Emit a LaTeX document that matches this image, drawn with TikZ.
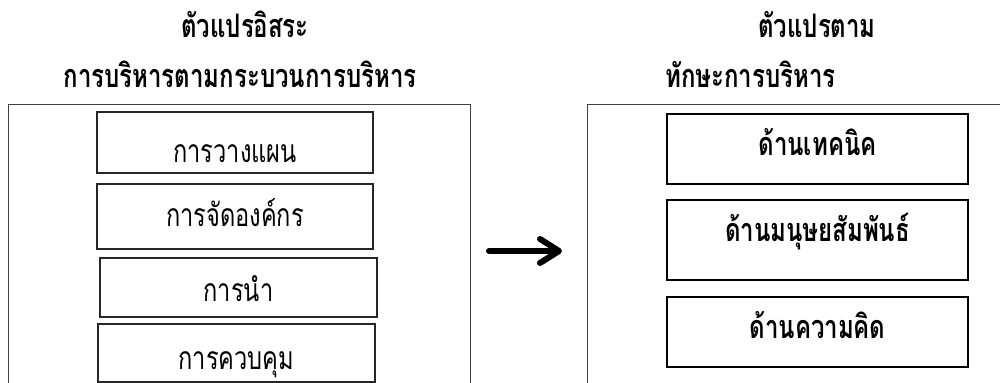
\documentclass[tikz,border=0pt]{standalone}
\usepackage{fontspec}
\usepackage{graphicx}
\newfontfamily\thaifont[Script=Thai]{Loma}
\newcommand\thstretch[1]{\scalebox{1}[1.35]{#1}}
\usetikzlibrary{arrows.meta}
\begin{document}
\begin{tikzpicture}[x=0.5pt,y=-0.5pt,
  frame/.style={draw=black!75,line width=0.5pt},
  lbox/.style={draw=black!85,line width=0.6pt,inner sep=0pt,text depth=0pt,font=\thaifont\fontsize{11.8pt}{14pt}\selectfont},
  rbox/.style={draw=black,line width=0.6pt,inner sep=0pt,text depth=0pt,font=\thaifont\bfseries\fontsize{12pt}{14pt}\selectfont},
  ttl/.style={inner sep=0pt,anchor=base,font=\thaifont\bfseries\fontsize{12pt}{14pt}\selectfont},
  arr/.style={line width=3pt,line cap=round,-{Straight Barb[length=9.5pt,width=12pt,round]}}]
\useasboundingbox (0,0) rectangle (1000,383);
% titles
\node[ttl] (t1) at (245,38) {\thstretch{ตัวแปรอิสระ}};
\node[ttl] (t2) at (240,88) {\thstretch{การบริหารตามกระบวนการบริหาร}};
\node[ttl] (t3) at (817,38) {\thstretch{ตัวแปรตาม}};
\node[ttl,anchor=base west] (t4) at (665,88) {\thstretch{ทักษะการบริหาร}};
% frames
\coordinate (lf1) at (8,384);
\coordinate (lf2) at (8,105);
\coordinate (lf3) at (470,105);
\coordinate (lf4) at (470,384);
\draw[frame] (lf1) -- (lf2) -- (lf3) -- (lf4);
\coordinate (rf1) at (587,384);
\coordinate (rf2) at (587,105);
\coordinate (rf3) at (1001,105);
\draw[frame] (rf1) -- (rf2) -- (rf3);
% left boxes
\node[lbox,text height=20pt,minimum width=138pt,minimum height=30.5pt] (l1) at (235,142.5) {\thstretch{การวางแผน}};
\node[lbox,text height=10.5pt,minimum width=138pt,minimum height=32.5pt] (l2) at (235,216.5) {\thstretch{การจัดองค์กร}};
\node[lbox,text height=14.5pt,minimum width=138.5pt,minimum height=29.5pt] (l3) at (238.5,287.5) {\thstretch{การนำ}};
\node[lbox,text height=17pt,minimum width=138.5pt,minimum height=29pt] (l4) at (236.5,353) {\thstretch{การควบคุม}};
% right boxes
\node[rbox,text height=7pt,minimum width=150.5pt,minimum height=35pt] (r1) at (817.5,149) {\thstretch{ด้านเทคนิค}};
\node[rbox,text height=2pt,minimum width=150.5pt,minimum height=40pt] (r2) at (817.5,240) {\thstretch{ด้านมนุษยสัมพันธ์}};
\node[rbox,text height=7pt,minimum width=150.5pt,minimum height=35pt] (r3) at (817.5,332) {\thstretch{ด้านความคิด}};
% arrow
\coordinate (a1) at (489,251);
\coordinate (a2) at (562,251);
\draw[arr] (a1) -- (a2);
\end{tikzpicture}
\end{document}
